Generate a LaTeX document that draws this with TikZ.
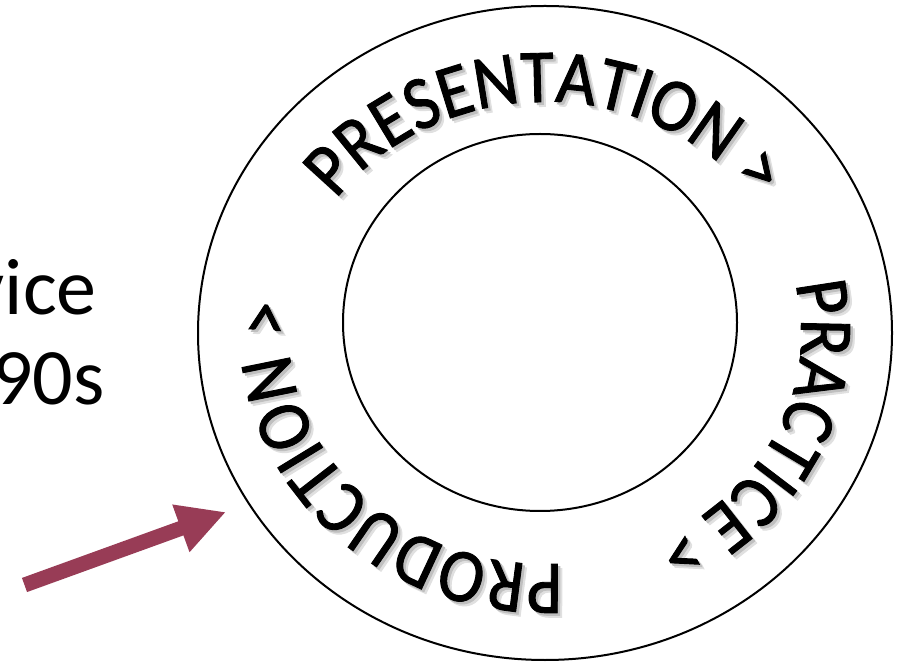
\documentclass[tikz,border=0pt]{standalone}
\usepackage{fontspec}
\setmainfont{Carlito}
\newfontfamily\narrowfam[FakeStretch=0.9,FakeBold=1.2]{Carlito}
\usetikzlibrary{decorations.text,arrows.meta}
\definecolor{arrowred}{RGB}{152,60,86}
\newcommand{\ringfont}{\narrowfam\fontsize{76}{76}\selectfont}
\begin{document}
\begin{tikzpicture}[x=1pt,y=1pt,
  ring/.style={draw=black,line width=2pt},
  ringtext/.style={decorate,decoration={text along path,text align=center,text={|\ringfont|#1}}},
  ringshadowA/.style={decorate,decoration={text along path,text align=center,text={|\ringfont\color{black!12}|#1}}},
  ringshadowB/.style={decorate,decoration={text along path,text align=center,text={|\ringfont\color{black!25}|#1}}},
  lefttext/.style={font=\fontsize{80}{80}\selectfont,inner sep=0pt},
  bigarrow/.style={draw=arrowred,line width=15pt,-{Triangle[width=47pt,length=48pt]}}
]
\useasboundingbox (0,0) rectangle (907,664);
\clip (0,0) rectangle (907,664);
\fill[white] (0,0) rectangle (907,664);

% circles
\draw[ring] (545,331) ellipse [x radius=347, y radius=327];
\draw[ring] (540,341.5) ellipse [x radius=197, y radius=188.5];

% shadows of ring text
\begin{scope}[shift={(4.5,-4.5)}]
\path[ringshadowA={PRESENTATION >}] (545,331) ++(155:256 and 231) arc[start angle=155,end angle=25,x radius=256,y radius=231];
\path[ringshadowA={PRACTICE >}] (545,331) ++(40:256 and 231) arc[start angle=40,end angle=-90,x radius=256,y radius=231];
\path[ringshadowA={PRODUCTION >}] (545,331) ++(290:256 and 231) arc[start angle=290,end angle=155,x radius=256,y radius=231];
\end{scope}
\begin{scope}[shift={(2.5,-2.5)}]
\path[ringshadowB={PRESENTATION >}] (545,331) ++(155:256 and 231) arc[start angle=155,end angle=25,x radius=256,y radius=231];
\path[ringshadowB={PRACTICE >}] (545,331) ++(40:256 and 231) arc[start angle=40,end angle=-90,x radius=256,y radius=231];
\path[ringshadowB={PRODUCTION >}] (545,331) ++(290:256 and 231) arc[start angle=290,end angle=155,x radius=256,y radius=231];
\end{scope}
% ring text
\path[ringtext={PRESENTATION >}] (545,331) ++(155:256 and 231) arc[start angle=155,end angle=25,x radius=256,y radius=231];
\path[ringtext={PRACTICE >}] (545,331) ++(40:256 and 231) arc[start angle=40,end angle=-90,x radius=256,y radius=231];
\path[ringtext={PRODUCTION >}] (545,331) ++(290:256 and 231) arc[start angle=290,end angle=155,x radius=256,y radius=231];

% left text
\node[lefttext,anchor=base east] (vice) at (97,349) {vice};
\node[lefttext,anchor=base west] (nineties) at (-8,259) {90s};

% arrow
\coordinate (atail) at (24.5,79);
\coordinate (atip) at (226,152);
\draw[bigarrow] (atail) -- (atip);
\end{tikzpicture}
\end{document}
